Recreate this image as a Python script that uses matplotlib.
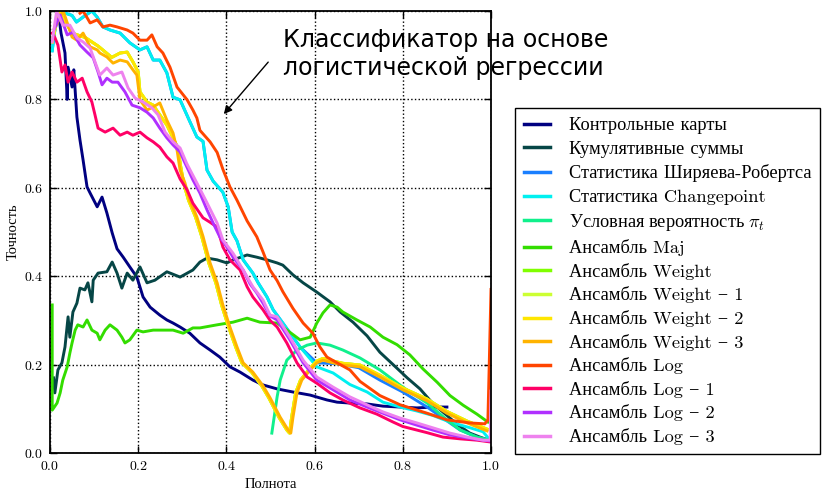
"""
Precision-recall curves for change detection methods and ensembles
"""

import numpy as np
import matplotlib
matplotlib.use('Agg')
import matplotlib.pyplot as plt
from matplotlib.ticker import MultipleLocator

### Curves (recall, precision)
cc_x = [0.020, 0.025, 0.034, 0.039, 0.041, 0.050, 0.054, 0.061, 0.068, 0.075,
        0.084, 0.091, 0.107, 0.118, 0.129, 0.141, 0.152, 0.166, 0.181, 0.197,
        0.211, 0.227, 0.249, 0.265, 0.279, 0.295, 0.317, 0.340, 0.363, 0.385,
        0.408, 0.431, 0.460, 0.483, 0.515, 0.551, 0.590, 0.628, 0.651, 0.680,
        0.719, 0.755, 0.794, 0.832, 0.868, 0.900]
cc_y = [0.99, 0.95, 0.905, 0.80, 0.873, 0.828, 0.867, 0.760, 0.708, 0.663,
        0.602, 0.588, 0.557, 0.579, 0.543, 0.498, 0.462, 0.443, 0.421, 0.398,
        0.353, 0.330, 0.312, 0.301, 0.294, 0.285, 0.271, 0.249, 0.233, 0.217,
        0.195, 0.183, 0.165, 0.154, 0.145, 0.138, 0.131, 0.120, 0.115, 0.113,
        0.111, 0.106, 0.104, 0.102, 0.104, 0.104]

cs_x = [0.008, 0.011, 0.018, 0.027, 0.034, 0.041, 0.045, 0.052, 0.061, 0.068,
        0.079, 0.086, 0.095, 0.098, 0.109, 0.129, 0.141, 0.152, 0.163, 0.175,
        0.188, 0.204, 0.220, 0.238, 0.265, 0.295, 0.324, 0.340, 0.356, 0.379,
        0.401, 0.415, 0.447, 0.469, 0.492, 0.515, 0.528, 0.551, 0.574, 0.605,
        0.635, 0.658, 0.687, 0.719, 0.748, 0.778, 0.810, 0.839, 0.868, 0.900,
        0.923, 0.952, 0.975, 0.998]
cs_y = [0.17, 0.136, 0.188, 0.204, 0.240, 0.308, 0.262, 0.319, 0.339, 0.373,
        0.369, 0.385, 0.342, 0.391, 0.407, 0.410, 0.432, 0.407, 0.373, 0.407,
        0.391, 0.421, 0.385, 0.391, 0.410, 0.398, 0.414, 0.432, 0.441, 0.437,
        0.430, 0.437, 0.448, 0.443, 0.437, 0.430, 0.425, 0.403, 0.385, 0.364,
        0.342, 0.319, 0.296, 0.265, 0.228, 0.200, 0.170, 0.145, 0.112, 0.085,
        0.065, 0.045, 0.036, 0.028]

### Shiryaev-Roberts runs under the Changepoint curve up to recall ~0.57
sr_x = [0.005, 0.010, 0.020, 0.050, 0.060, 0.080, 0.095, 0.107, 0.120, 0.136,
        0.159, 0.181, 0.204, 0.220, 0.234, 0.249, 0.265, 0.279, 0.295, 0.317,
        0.333, 0.347, 0.356, 0.370, 0.392, 0.404, 0.413, 0.424, 0.438, 0.460,
        0.472, 0.492, 0.506, 0.528, 0.567, 0.605, 0.650, 0.700, 0.748, 0.800,
        0.855, 0.891, 0.930, 0.968, 0.993]
sr_y = [0.91, 0.95, 1.00, 0.99, 0.975, 0.99, 1.00, 0.986, 0.964, 0.957,
        0.950, 0.928, 0.912, 0.919, 0.889, 0.889, 0.860, 0.805, 0.799, 0.750,
        0.715, 0.705, 0.640, 0.615, 0.590, 0.557, 0.500, 0.480, 0.437, 0.407,
        0.385, 0.353, 0.324, 0.294, 0.240, 0.204, 0.202, 0.193, 0.165, 0.138,
        0.104, 0.079, 0.052, 0.036, 0.030]

cp_x = [0.005, 0.010, 0.020, 0.050, 0.060, 0.080, 0.095, 0.107, 0.120, 0.136,
        0.159, 0.181, 0.204, 0.220, 0.234, 0.249, 0.265, 0.279, 0.295, 0.317,
        0.333, 0.347, 0.356, 0.370, 0.392, 0.404, 0.413, 0.424, 0.438, 0.460,
        0.472, 0.492, 0.506, 0.528, 0.567, 0.605, 0.642, 0.680, 0.719, 0.755,
        0.794, 0.832, 0.868, 0.907, 0.946, 0.982, 0.998]
cp_y = [0.91, 0.95, 1.00, 0.99, 0.975, 0.99, 1.00, 0.986, 0.964, 0.957,
        0.950, 0.928, 0.912, 0.919, 0.889, 0.889, 0.860, 0.805, 0.799, 0.750,
        0.715, 0.705, 0.640, 0.615, 0.590, 0.557, 0.500, 0.480, 0.437, 0.407,
        0.385, 0.353, 0.324, 0.294, 0.240, 0.195, 0.181, 0.155, 0.138, 0.115,
        0.104, 0.095, 0.085, 0.070, 0.059, 0.048, 0.029]

pt_x = [0.503, 0.515, 0.522, 0.537, 0.560, 0.583, 0.605, 0.635, 0.664, 0.703,
        0.748, 0.800, 0.855, 0.900, 0.930, 0.968, 0.993]
pt_y = [0.045, 0.127, 0.165, 0.210, 0.233, 0.244, 0.249, 0.244, 0.233, 0.215,
        0.188, 0.149, 0.113, 0.075, 0.052, 0.036, 0.030]

mj_x = [0.005, 0.005, 0.016, 0.023, 0.029, 0.039, 0.045, 0.050, 0.057, 0.063,
        0.075, 0.084, 0.095, 0.107, 0.113, 0.125, 0.136, 0.152, 0.163, 0.170,
        0.181, 0.197, 0.211, 0.234, 0.256, 0.279, 0.302, 0.324, 0.340, 0.379,
        0.415, 0.447, 0.476, 0.515, 0.528, 0.567, 0.590, 0.605, 0.619, 0.635,
        0.651, 0.664, 0.696, 0.726, 0.755, 0.787, 0.816, 0.846, 0.878, 0.907,
        0.937, 0.968, 0.993]
mj_y = [0.335, 0.097, 0.113, 0.136, 0.165, 0.195, 0.226, 0.249, 0.278, 0.290,
        0.285, 0.301, 0.278, 0.271, 0.256, 0.278, 0.290, 0.278, 0.262, 0.249,
        0.256, 0.278, 0.274, 0.278, 0.278, 0.278, 0.271, 0.283, 0.283, 0.290,
        0.296, 0.305, 0.296, 0.294, 0.285, 0.256, 0.262, 0.294, 0.317, 0.335,
        0.330, 0.319, 0.301, 0.285, 0.262, 0.245, 0.222, 0.190, 0.160, 0.130,
        0.108, 0.088, 0.070]

w2_x = [0.005, 0.020, 0.050, 0.080, 0.110, 0.140, 0.159, 0.175, 0.188, 0.200,
        0.204, 0.220, 0.234, 0.249, 0.265, 0.279, 0.290, 0.296, 0.303, 0.314,
        0.330, 0.344, 0.360, 0.376, 0.389, 0.405, 0.421, 0.435, 0.457, 0.480,
        0.496, 0.519, 0.537, 0.543, 0.548, 0.557, 0.568, 0.590, 0.605, 0.619,
        0.642, 0.664, 0.703, 0.748, 0.800, 0.855, 0.900, 0.946, 0.991]
w2_y = [0.93, 1.00, 0.95, 0.94, 0.92, 0.895, 0.905, 0.907, 0.885, 0.862,
        0.817, 0.794, 0.787, 0.765, 0.742, 0.713, 0.690, 0.650, 0.611, 0.572,
        0.534, 0.490, 0.430, 0.385, 0.335, 0.285, 0.240, 0.204, 0.183, 0.152,
        0.125, 0.081, 0.052, 0.045, 0.081, 0.136, 0.165, 0.192, 0.208, 0.214,
        0.208, 0.203, 0.199, 0.176, 0.147, 0.122, 0.094, 0.072, 0.054]

w3_x = [0.010, 0.030, 0.050, 0.061, 0.075, 0.091, 0.107, 0.113, 0.129, 0.143,
        0.159, 0.175, 0.188, 0.197, 0.204, 0.220, 0.234, 0.249, 0.265, 0.279,
        0.288, 0.295, 0.306, 0.317, 0.333, 0.347, 0.363, 0.379, 0.392, 0.408,
        0.424, 0.438, 0.460, 0.483, 0.499, 0.522, 0.540, 0.546, 0.551, 0.560,
        0.571, 0.590, 0.605, 0.619, 0.642, 0.664, 0.703, 0.748, 0.800, 0.855,
        0.900, 0.946, 0.991]
w3_y = [0.96, 1.00, 0.941, 0.934, 0.950, 0.919, 0.912, 0.905, 0.896, 0.882,
        0.889, 0.885, 0.867, 0.855, 0.799, 0.776, 0.783, 0.792, 0.753, 0.724,
        0.686, 0.640, 0.611, 0.572, 0.534, 0.490, 0.430, 0.385, 0.335, 0.285,
        0.240, 0.204, 0.183, 0.152, 0.125, 0.081, 0.052, 0.045, 0.081, 0.136,
        0.165, 0.188, 0.204, 0.210, 0.204, 0.199, 0.195, 0.172, 0.143, 0.118,
        0.090, 0.068, 0.050]

lg_x = [0.068, 0.075, 0.084, 0.091, 0.107, 0.120, 0.136, 0.152, 0.175, 0.188,
        0.204, 0.220, 0.231, 0.243, 0.256, 0.272, 0.288, 0.311, 0.324, 0.333,
        0.340, 0.363, 0.379, 0.392, 0.408, 0.424, 0.447, 0.469, 0.483, 0.499,
        0.515, 0.528, 0.551, 0.574, 0.596, 0.612, 0.628, 0.651, 0.680, 0.703,
        0.748, 0.794, 0.855, 0.900, 0.952, 0.986, 0.993, 0.996, 1.000]
lg_y = [0.995, 1.00, 0.985, 0.973, 0.980, 0.964, 0.968, 0.964, 0.957, 0.950,
        0.934, 0.934, 0.946, 0.919, 0.905, 0.873, 0.828, 0.799, 0.776, 0.758,
        0.730, 0.704, 0.680, 0.642, 0.602, 0.572, 0.525, 0.489, 0.455, 0.414,
        0.390, 0.365, 0.327, 0.294, 0.271, 0.240, 0.217, 0.204, 0.188, 0.162,
        0.130, 0.109, 0.090, 0.075, 0.068, 0.066, 0.075, 0.200, 0.370]

l1_x = [0.005, 0.011, 0.018, 0.027, 0.034, 0.041, 0.050, 0.061, 0.073, 0.084,
        0.095, 0.102, 0.109, 0.125, 0.143, 0.159, 0.175, 0.188, 0.204, 0.220,
        0.234, 0.249, 0.265, 0.279, 0.295, 0.311, 0.324, 0.347, 0.363, 0.379,
        0.392, 0.408, 0.431, 0.447, 0.460, 0.483, 0.499, 0.515, 0.537, 0.560,
        0.583, 0.605, 0.635, 0.664, 0.703, 0.741, 0.778, 0.800, 0.855, 0.891,
        0.930, 0.968, 0.998]
l1_y = [0.95, 0.94, 0.923, 0.862, 0.878, 0.839, 0.862, 0.839, 0.848, 0.817,
        0.794, 0.765, 0.735, 0.726, 0.735, 0.719, 0.726, 0.719, 0.726, 0.713,
        0.704, 0.692, 0.670, 0.656, 0.620, 0.595, 0.565, 0.532, 0.522, 0.511,
        0.466, 0.437, 0.414, 0.376, 0.353, 0.324, 0.300, 0.285, 0.249, 0.204,
        0.172, 0.158, 0.136, 0.120, 0.102, 0.088, 0.070, 0.060, 0.046, 0.036,
        0.032, 0.029, 0.025]

l2_x = [0.010, 0.023, 0.039, 0.052, 0.068, 0.084, 0.098, 0.109, 0.118, 0.129,
        0.141, 0.154, 0.170, 0.186, 0.204, 0.220, 0.234, 0.249, 0.265, 0.279,
        0.295, 0.302, 0.324, 0.340, 0.356, 0.370, 0.385, 0.401, 0.415, 0.438,
        0.454, 0.469, 0.483, 0.499, 0.515, 0.544, 0.574, 0.605, 0.642, 0.680,
        0.719, 0.755, 0.794, 0.832, 0.868, 0.907, 0.946, 0.982, 0.998]
l2_y = [0.96, 0.991, 0.946, 0.952, 0.923, 0.907, 0.894, 0.862, 0.833, 0.848,
        0.839, 0.839, 0.817, 0.787, 0.781, 0.771, 0.758, 0.735, 0.713, 0.697,
        0.681, 0.665, 0.618, 0.588, 0.550, 0.520, 0.489, 0.466, 0.443, 0.414,
        0.382, 0.362, 0.339, 0.310, 0.301, 0.256, 0.204, 0.165, 0.143, 0.120,
        0.104, 0.090, 0.075, 0.063, 0.052, 0.041, 0.034, 0.029, 0.027]

l3_x = [0.005, 0.015, 0.029, 0.045, 0.061, 0.075, 0.091, 0.102, 0.113, 0.129,
        0.143, 0.163, 0.177, 0.193, 0.211, 0.231, 0.245, 0.261, 0.279, 0.295,
        0.310, 0.333, 0.356, 0.379, 0.392, 0.415, 0.438, 0.460, 0.483, 0.499,
        0.515, 0.544, 0.574, 0.605, 0.642, 0.680, 0.719, 0.755, 0.794, 0.832,
        0.868, 0.907, 0.946, 0.982, 0.998, 1.000]
l3_y = [0.93, 1.00, 0.968, 0.968, 0.939, 0.930, 0.916, 0.885, 0.855, 0.871,
        0.855, 0.862, 0.826, 0.803, 0.794, 0.781, 0.765, 0.726, 0.704, 0.690,
        0.655, 0.611, 0.566, 0.520, 0.482, 0.452, 0.414, 0.376, 0.346, 0.312,
        0.308, 0.262, 0.210, 0.172, 0.149, 0.127, 0.109, 0.093, 0.079, 0.068,
        0.057, 0.045, 0.036, 0.029, 0.029, 0.140]

labels = ['Контрольные карты', 'Кумулятивные суммы', 'Статистика Ширяева-Робертса',
          'Статистика Changepoint', r'Условная вероятность $\pi_t$', 'Ансамбль Maj',
          'Ансамбль Weight', 'Ансамбль Weight \u2212 1', 'Ансамбль Weight \u2212 2',
          'Ансамбль Weight \u2212 3', 'Ансамбль Log', 'Ансамбль Log \u2212 1',
          'Ансамбль Log \u2212 2', 'Ансамбль Log \u2212 3']
colors = ['#000080', '#064646', '#1a7fff', '#00f0f0', '#10f08c', '#33dd00',
          '#80ff00', '#ccff33', '#ffe600', '#ffb300', '#ff4500', '#ff0066',
          '#b030ff', '#ee82ee']


def main():
    plt.rcParams['font.family'] = ['cmr10', 'Liberation Serif']
    plt.rcParams['mathtext.fontset'] = 'cm'
    plt.rcParams['axes.formatter.use_mathtext'] = True

    ### Weight and Weight-1 lie under Weight-2 in the original
    curves = [(cc_x, cc_y), (cs_x, cs_y), (sr_x, sr_y), (cp_x, cp_y), (pt_x, pt_y),
              (mj_x, mj_y), (w2_x, w2_y), (w2_x, w2_y), (w2_x, w2_y), (w3_x, w3_y),
              (lg_x, lg_y), (l1_x, l1_y), (l2_x, l2_y), (l3_x, l3_y)]

    fig = plt.figure()
    fig.set_size_inches(8.3, 4.93)
    ax = fig.add_axes([50/830, 40/493, 441/830, 442/493])

    for (xx, yy), lab, col in zip(curves, labels, colors):
        ax.plot(xx, yy, color=col, lw=2.1, label=lab, solid_joinstyle='round')

    ax.set_xlim(0, 1)
    ax.set_ylim(0, 1)
    ax.xaxis.set_major_locator(MultipleLocator(0.2))
    ax.yaxis.set_major_locator(MultipleLocator(0.2))
    ax.tick_params(axis='both', direction='in', top=True, right=True,
                   length=5, width=1, labelsize=10, pad=5)
    ax.grid(ls=':', lw=1, color='k')
    for sp in ax.spines.values():
        sp.set_linewidth(1.3)
    ax.set_xlabel('Полнота', fontsize=10.5, labelpad=3)
    ax.set_ylabel('Точность', fontsize=10.5, labelpad=3)

    ### Arrow with note about the logistic ensemble
    ax.annotate('', xy=(0.39, 0.762), xytext=(270, 433), textcoords='figure pixels',
                arrowprops=dict(arrowstyle='-|>', color='k', lw=1, mutation_scale=12),
                annotation_clip=False)
    fig.text(283/830, 1-28/493, 'Классификатор на основе\nлогистической регрессии',
             fontsize=17, family='DejaVu Sans', va='top', ha='left', linespacing=1.22)

    leg = fig.legend(loc='upper left', bbox_to_anchor=(515/830, 1-108/493),
                     fontsize=13.2, frameon=True, fancybox=False, edgecolor='k',
                     framealpha=1, handlelength=1.42, handletextpad=1.0,
                     labelspacing=0.36, borderpad=0.5, borderaxespad=0)
    leg.get_frame().set_linewidth(1)
    for ln in leg.get_lines():
        ln.set_linewidth(2.5)
    ### mathtext does not fall back to a second family, so give it a Cyrillic one
    for tx in leg.get_texts():
        if '$' in tx.get_text():
            tx.set_fontfamily('Liberation Serif')

    fig.savefig('out.png', dpi=100)
    return


if __name__ == "__main__":
    main()
